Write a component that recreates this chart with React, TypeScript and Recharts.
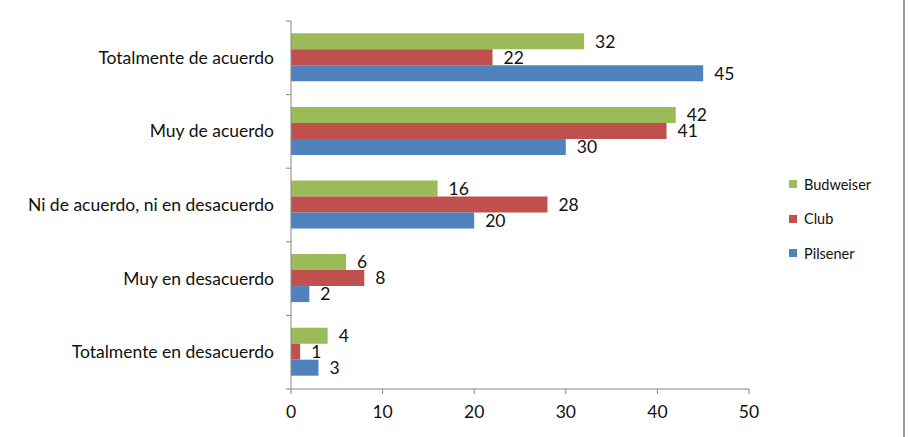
import React from "react";
import { BarChart, Bar, XAxis, YAxis, LabelList } from "recharts";

const categories = [
  "Totalmente de acuerdo",
  "Muy de acuerdo",
  "Ni de acuerdo, ni en desacuerdo",
  "Muy en desacuerdo",
  "Totalmente en desacuerdo",
];
const budweiser = [32, 42, 16, 6, 4];
const club = [22, 41, 28, 8, 1];
const pilsener = [45, 30, 20, 2, 3];
const xTicks = [0, 10, 20, 30, 40, 50];

const SERIES = [
  { key: "Budweiser", color: "#9BBB59" },
  { key: "Club", color: "#C0504D" },
  { key: "Pilsener", color: "#4F81BD" },
];

const data = categories.map((c, i) => ({
  name: c,
  Budweiser: budweiser[i],
  Club: club[i],
  Pilsener: pilsener[i],
}));

const W = 909;
const H = 437;
const M = { top: 21, right: 160, left: 0, bottom: 18 };
const Y_W = 291;
const X_H = 30;
const FONT = "Lato, 'Open Sans', sans-serif";
const AXIS = "#868686";
const band = (H - M.top - M.bottom - X_H) / categories.length;

const CatTick = (props: any) => {
  const { x, y, payload, index } = props;
  const ax = x + 17;
  return (
    <g>
      <line x1={ax - 5} x2={ax} y1={y - band / 2} y2={y - band / 2} stroke={AXIS} />
      {index === categories.length - 1 && (
        <line x1={ax - 5} x2={ax} y1={y + band / 2} y2={y + band / 2} stroke={AXIS} />
      )}
      <text x={x} y={y} dy={6} textAnchor="end" fontSize={17.5} fill="#111" fontFamily={FONT}>
        {payload.value}
      </text>
    </g>
  );
};

const LegendBox = () => (
  <div style={{ fontFamily: FONT, fontSize: 14.5, color: "#111" }}>
    {SERIES.map((s) => (
      <div key={s.key} style={{ display: "flex", alignItems: "center", height: 34.5 }}>
        <span style={{ width: 8, height: 8, background: s.color, marginRight: 7 }} />
        {s.key}
      </div>
    ))}
  </div>
);

export default function App() {
  return (
    <div style={{ position: "absolute", left: 0, top: 0, width: W, height: H, background: "#fff" }}>
      <BarChart
        width={W}
        height={H}
        data={data}
        layout="vertical"
        margin={M}
        barCategoryGap="16.7%"
        barGap={0}
      >
        <XAxis
          type="number"
          domain={[0, 50]}
          ticks={xTicks}
          height={X_H}
          stroke={AXIS}
          tickSize={5}
          tickMargin={12}
          tick={{ fontSize: 17.5, fill: "#111", fontFamily: FONT }}
        />
        <YAxis
          type="category"
          dataKey="name"
          width={Y_W}
          stroke={AXIS}
          tickLine={false}
          tickSize={0}
          tickMargin={17}
          tick={<CatTick />}
          interval={0}
        />
        {SERIES.map((s) => (
          <Bar key={s.key} dataKey={s.key} fill={s.color} isAnimationActive={false}>
            <LabelList
              dataKey={s.key}
              position="right"
              offset={11}
              fontSize={17.5}
              fill="#111"
              fontFamily={FONT}
            />
          </Bar>
        ))}
      </BarChart>
      <div style={{ position: "absolute", left: 789, top: 167 }}>
        <LegendBox />
      </div>
      <div style={{ position: "absolute", left: 903, top: 0, width: 0, height: H, borderRight: "2px solid #999" }} />
    </div>
  );
}
